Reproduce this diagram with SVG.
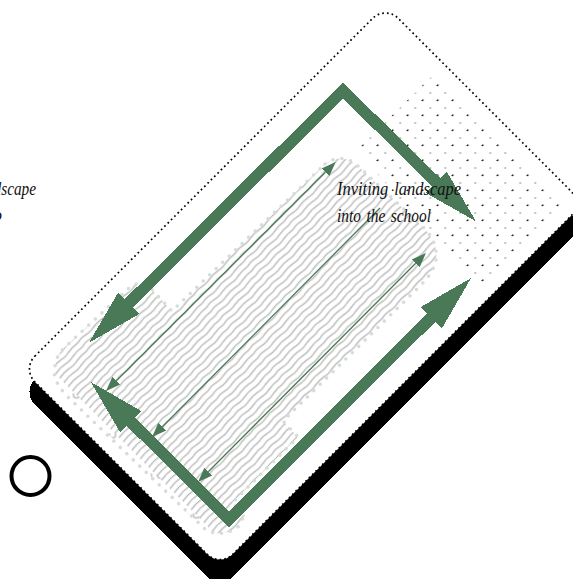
<svg xmlns="http://www.w3.org/2000/svg" width="573" height="579" viewBox="0 0 573 579">
<style>
.lbl{font-family:"Liberation Serif",serif;font-style:italic;font-size:18.5px;fill:#111}
.big{fill:none;stroke:#4a7957;stroke-width:11.4;stroke-linejoin:miter;stroke-miterlimit:4;shape-rendering:crispEdges;marker-start:url(#bigHead);marker-end:url(#bigHead)}
.thin{fill:none;stroke:#4a7957;stroke-width:1.3}
</style>
<defs>
<marker id="bigHead" markerUnits="userSpaceOnUse" markerWidth="60" markerHeight="34" viewBox="0 -17 60 34" refX="0" refY="0" orient="auto-start-reverse"><path d="M0,-15 L56,0 L0,15 Z" fill="#4a7957" shape-rendering="crispEdges"/></marker>
<marker id="thinHead" markerUnits="userSpaceOnUse" markerWidth="16" markerHeight="14" viewBox="0 -7 16 14" refX="0" refY="0" orient="auto-start-reverse"><path d="M0,-5.5 L14.5,0 L0,5.5 Z" fill="#4a7957"/></marker>
<pattern id="waves" patternUnits="userSpaceOnUse" width="58" height="6" patternTransform="translate(22 369) rotate(-45)"><path d="M0,3 c4,-0.9 8,-0.9 12,0 s6,0.8 10,0 s7,-1 11,0 s9,0.9 13,0 s8,-0.5 12,0" fill="none" stroke="#bfbfbf" stroke-width="1.5"/></pattern>
<pattern id="hooks" patternUnits="userSpaceOnUse" width="40" height="12" patternTransform="translate(22 369) rotate(-45)"><path d="M21,3 H19 A2.6,3 0 0 0 19,9 H21" fill="none" stroke="#bfbfbf" stroke-width="1.5"/></pattern>
<pattern id="dots" patternUnits="userSpaceOnUse" width="15" height="15" patternTransform="translate(422.3 85)"><circle cx="0.5" cy="0.5" r="0.75" fill="#111"/><circle cx="8" cy="8" r="0.8" fill="#777"/><circle cx="15" cy="0.5" r="0.75" fill="#111"/><circle cx="0.5" cy="15" r="0.75" fill="#111"/></pattern>
<path id="hatchShape" d="M325,164 Q342,152 358,166 L425,229 Q438,243 436,260 Q434,272 420,286 L283,421 L296,435 Q299,437 295,440 L232,503 L245,515 L238,527 Q222,538 206,530 L68,397 Q51,380 55,366 Q56,356 64,348 L130,287 Q143,278 155,293 L172,311 Z"/>
</defs>
<g id="sheet">
<rect x="0" y="0" width="514" height="280" rx="18" fill="#000" shape-rendering="crispEdges" transform="translate(22 392) rotate(-45)"/>
<rect x="0" y="0" width="514" height="280" rx="18" fill="#fff" stroke="#000" stroke-width="1.7" stroke-dasharray="1.7 3" transform="translate(22 369) rotate(-45)"/>
</g>
<g id="dot-field"><polygon points="357,150 432,76 562,206 483,285 400,200" fill="url(#dots)"/></g>
<g id="hatch">
<use href="#hatchShape" fill="#fff"/>
<use href="#hatchShape" fill="url(#waves)"/>
<rect x="5" y="24" width="15" height="226" fill="#fff" transform="translate(22 369) rotate(-45)"/>
<rect x="15" y="30" width="6" height="216" fill="url(#hooks)" transform="translate(22 369) rotate(-45)"/>
<use href="#hatchShape" fill="none" stroke="#d3ded9" stroke-width="3.6" stroke-linecap="round" stroke-dasharray="0 9"/>
</g>
<g id="connectors">
<polyline class="thin" points="116.3,380.7 325.4,172.3" marker-start="url(#thinHead)" marker-end="url(#thinHead)"/>
<polyline class="thin" points="162.3,426.7 380,208" marker-start="url(#thinHead)"/>
<polyline class="thin" points="208.3,471.7 415.7,263.3" marker-start="url(#thinHead)" marker-end="url(#thinHead)"/>
<polyline class="big" points="128.6,303.4 343,90.5 436.1,182.1"/>
<polyline class="big" points="130.6,421.6 229,519.5 431.4,317.6"/>
</g>
<g id="label-main">
<text class="lbl" x="337" y="195" textLength="124" lengthAdjust="spacingAndGlyphs" style="word-spacing:2px">Inviting landscape</text>
<text class="lbl" x="337" y="222" textLength="94" lengthAdjust="spacingAndGlyphs" style="word-spacing:2px">into the school</text>
</g>
<g id="label-left">
<text class="lbl" x="-26" y="195" textLength="62" lengthAdjust="spacingAndGlyphs">landscape</text>
<text class="lbl" x="2" y="221" text-anchor="end">into</text>
</g>
<g id="circle"><circle cx="30.5" cy="476" r="19" fill="#fff" stroke="#000" stroke-width="4"/></g>
</svg>
